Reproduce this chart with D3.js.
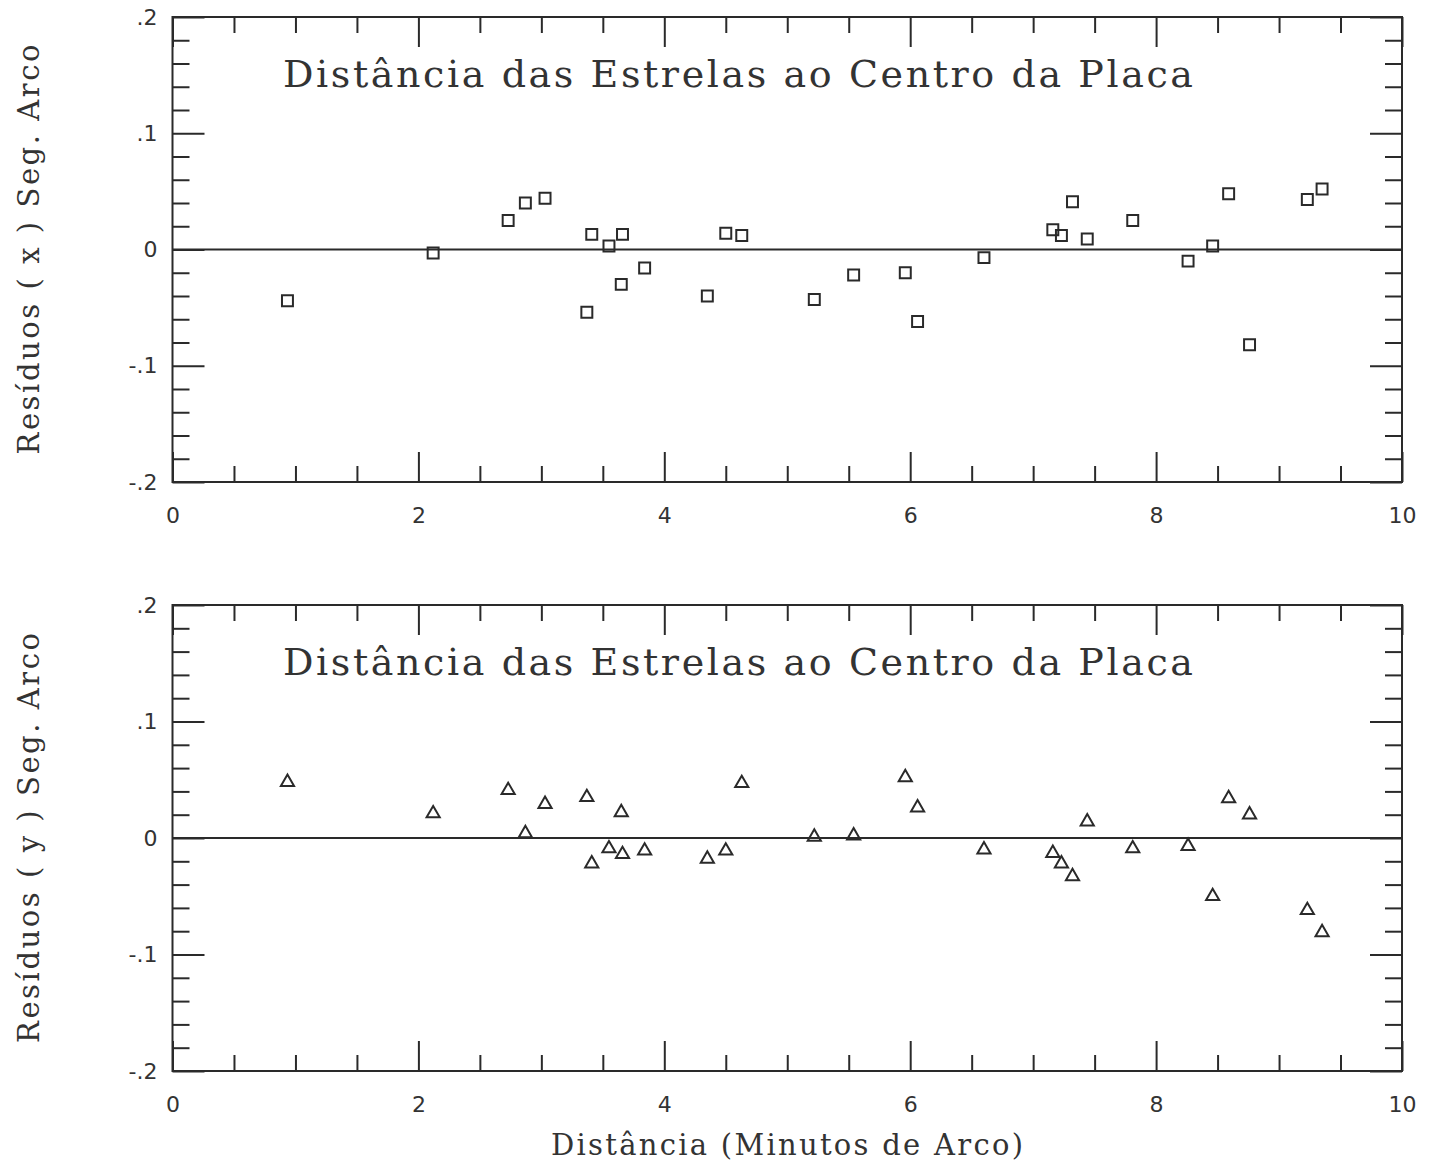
<!DOCTYPE html>
<html>
<head>
<meta charset="utf-8">
<script src="https://cdn.jsdelivr.net/npm/d3@7"></script>
<style>
  html, body { margin: 0; padding: 0; background: #fff; }
  svg { display: block; }
  .tick text { font-family: "DejaVu Sans", sans-serif; font-size: 22px; fill: #333; }
  .tick line { stroke: #2a2a2a; stroke-width: 2; }
  .domain { display: none; }
</style>
</head>
<body>
<script>
// Star distances from the plate centre (arc minutes)
const distances = [0.935, 2.12, 2.73, 2.87, 3.03, 3.37, 3.41, 3.55, 3.65, 3.66,
                   3.84, 4.35, 4.50, 4.63, 5.22, 5.54, 5.96, 6.06, 6.60, 7.16,
                   7.23, 7.32, 7.44, 7.81, 8.26, 8.46, 8.59, 8.76, 9.23, 9.35];
// Residuals in x (arc seconds)
const residualX = [-0.044, -0.003, 0.025, 0.040, 0.044, -0.054, 0.013, 0.003, -0.030, 0.013,
                   -0.016, -0.040, 0.014, 0.012, -0.043, -0.022, -0.020, -0.062, -0.007, 0.017,
                   0.012, 0.041, 0.009, 0.025, -0.010, 0.003, 0.048, -0.082, 0.043, 0.052];
// Residuals in y (arc seconds)
const residualY = [0.048, 0.021, 0.041, 0.004, 0.029, 0.035, -0.022, -0.009, 0.022, -0.014,
                   -0.011, -0.018, -0.011, 0.047, 0.001, 0.002, 0.052, 0.026, -0.010, -0.013,
                   -0.022, -0.033, 0.014, -0.009, -0.007, -0.050, 0.034, 0.020, -0.062, -0.081];

const xMajorTicks = [0, 2, 4, 6, 8, 10];
const xMinorTicks = [0.5, 1, 1.5, 2.5, 3, 3.5, 4.5, 5, 5.5, 6.5, 7, 7.5, 8.5, 9, 9.5];
const yMajorTicks = [-0.2, -0.1, 0, 0.1, 0.2];
const yMinorTicks = [-0.18, -0.16, -0.14, -0.12, -0.08, -0.06, -0.04, -0.02,
                     0.02, 0.04, 0.06, 0.08, 0.12, 0.14, 0.16, 0.18];

const panelTitle = "Distância das Estrelas ao Centro da Placa";
const yTitles = ["Resíduos ( x ) Seg. Arco", "Resíduos ( y ) Seg. Arco"];
const xTitle = "Distância (Minutos de Arco)";

const W = 1434, H = 1164;
const ink = "#2a2a2a";
const textInk = "#333";
const serif = "'DejaVu Serif', serif";

const svg = d3.select("body").append("svg").attr("width", W).attr("height", H);

const left = 172.5, right = 1402;
const x = d3.scaleLinear().domain([0, 10]).range([0, right - left]);
const plotW = right - left;

function fmtY(d) {
  if (Math.abs(d) < 1e-9) return "0";
  return (d < 0 ? "-" : "") + "." + Math.round(Math.abs(d) * 10);
}

function panel(top, bottom, values, symbolType, yTitle) {
  const h = bottom - top;
  const y = d3.scaleLinear().domain([-0.2, 0.2]).range([h, 0]);
  const g = svg.append("g").attr("transform", `translate(${left},${top})`);

  // frame
  g.append("rect").attr("x", 0).attr("y", 0).attr("width", plotW).attr("height", h)
    .attr("fill", "none").attr("stroke", ink).attr("stroke-width", 2);

  // bottom axis: major ticks with labels, minor ticks inward
  g.append("g").attr("transform", `translate(0,${h})`)
    .call(d3.axisBottom(x).tickValues(xMajorTicks).tickSize(-30).tickPadding(25)
      .tickFormat(d3.format("d")));
  g.append("g").attr("transform", `translate(0,${h})`)
    .call(d3.axisBottom(x).tickValues(xMinorTicks).tickSize(-16).tickFormat(""));
  // top axis
  g.append("g")
    .call(d3.axisTop(x).tickValues(xMajorTicks).tickSize(-30).tickFormat(""));
  g.append("g")
    .call(d3.axisTop(x).tickValues(xMinorTicks).tickSize(-16).tickFormat(""));
  // left axis
  g.append("g")
    .call(d3.axisLeft(y).tickValues(yMajorTicks).tickSize(-32).tickPadding(15).tickFormat(fmtY));
  g.append("g")
    .call(d3.axisLeft(y).tickValues(yMinorTicks).tickSize(-17).tickFormat(""));
  // right axis
  g.append("g").attr("transform", `translate(${plotW},0)`)
    .call(d3.axisRight(y).tickValues(yMajorTicks).tickSize(-32).tickFormat(""));
  g.append("g").attr("transform", `translate(${plotW},0)`)
    .call(d3.axisRight(y).tickValues(yMinorTicks).tickSize(-17).tickFormat(""));

  // zero line
  g.append("line").attr("x1", 0).attr("x2", plotW).attr("y1", y(0)).attr("y2", y(0))
    .attr("stroke", ink).attr("stroke-width", 2);

  // panel title
  g.append("text").attr("x", 283 - left).attr("y", 87 - 17)
    .attr("font-family", serif).attr("font-size", 38).attr("fill", textInk)
    .attr("textLength", 910).attr("lengthAdjust", "spacing")
    .text(panelTitle);

  // residual markers
  const sym = d3.symbol().type(symbolType).size(symbolType === d3.symbolSquare ? 120 : 75);
  g.selectAll("path.pt").data(distances.map((d, i) => [d, values[i]]))
    .enter().append("path").attr("class", "pt")
    .attr("transform", d => `translate(${x(d[0])},${y(d[1])})`)
    .attr("d", sym())
    .attr("fill", "none").attr("stroke", ink).attr("stroke-width", 2);

  // y axis title
  svg.append("text")
    .attr("transform", `translate(39,${top + h / 2}) rotate(-90)`)
    .attr("text-anchor", "middle")
    .attr("font-family", serif).attr("font-size", 29).attr("fill", textInk)
    .attr("textLength", 410).attr("lengthAdjust", "spacing")
    .text(yTitle);
}

panel(17, 482, residualX, d3.symbolSquare, yTitles[0]);
panel(605, 1071, residualY, d3.symbolTriangle, yTitles[1]);

// shared x axis title
svg.append("text").attr("x", 787).attr("y", 1155).attr("text-anchor", "middle")
  .attr("font-family", serif).attr("font-size", 29).attr("fill", textInk)
  .attr("textLength", 472).attr("lengthAdjust", "spacing")
  .text(xTitle);
</script>
</body>
</html>
